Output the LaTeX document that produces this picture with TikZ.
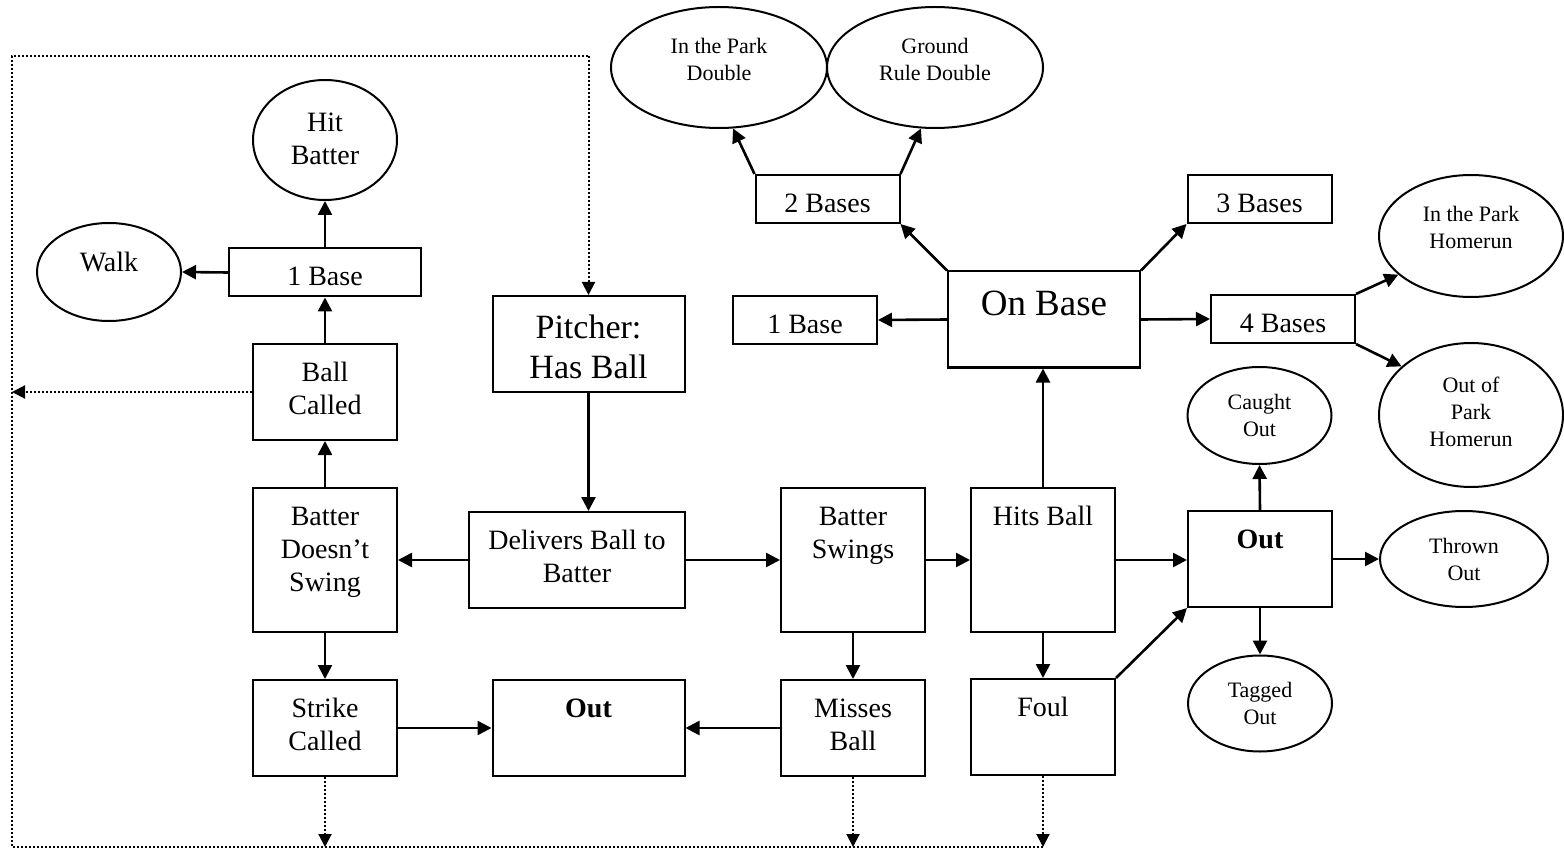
\documentclass[tikz,border=0pt]{standalone}
\usepackage{fontspec}
\setmainfont{Liberation Serif}
\usetikzlibrary{arrows.meta,shapes.geometric}
\newcommand\szA{\fontsize{14}{16.6}\selectfont}
\newcommand\szP{\fontsize{17}{20}\selectfont}
\newcommand\szO{\fontsize{18.5}{22}\selectfont}
\newcommand\szS{\fontsize{11}{13.5}\selectfont}
\newcommand\bt[4]{\parbox[c][#2][t]{#1}{\centering\vspace*{#3}\strut #4\par}}
\begin{document}
\begin{tikzpicture}[x=0.5pt,y=-0.5pt,
  bx/.style={draw, line width=1pt, inner sep=0pt, rectangle, font=\szA},
  el/.style={draw, ellipse, line width=1pt, inner sep=0pt},
  lblA/.style={font=\szA, align=center, inner sep=0pt},
  lblS/.style={font=\szS, align=center, inner sep=0pt},
  arr/.style={line width=1.3pt, -{Triangle[length=7pt,width=7pt]}},
  dar/.style={line width=1pt, dash pattern=on 1pt off 1pt, -{Triangle[length=6.5pt,width=6.5pt]}},
  dln/.style={line width=1pt, dash pattern=on 1pt off 1pt}]
\useasboundingbox (0,0) rectangle (1564,850);

% boxes
\node[bx] (bds)    at (325,560)   {\bt{72pt}{72pt}{6.9pt}{Batter\\Doesn’t\\Swing}};
\node[bx] (ballc)  at (325,392)   {\bt{72pt}{48pt}{6.9pt}{Ball\\Called}};
\node[bx] (strike) at (325,728)   {\bt{72pt}{48pt}{6.9pt}{Strike\\Called}};
\node[bx] (baseL)  at (325,272.5) {\bt{96pt}{24pt}{6.9pt}{1 Base}};
\node[bx,font=\szP] (pitch) at (588.5,344) {\bt{96pt}{48pt}{7pt}{Pitcher:\\Has Ball}};
\node[bx] (deliv)  at (577,560)   {\bt{108pt}{48pt}{6.9pt}{Delivers Ball to\\Batter}};
\node[bx] (outM)   at (588.5,728) {\bt{96pt}{48pt}{6.9pt}{\textbf{Out}}};
\node[bx] (swing)  at (853,560)   {\bt{72pt}{72pt}{6.9pt}{Batter\\Swings}};
\node[bx] (miss)   at (853,728)   {\bt{72pt}{48pt}{6.9pt}{Misses\\Ball}};
\node[bx] (hits)   at (1043,560)  {\bt{72pt}{72pt}{6.9pt}{Hits Ball}};
\node[bx] (foul)   at (1043,727)  {\bt{72pt}{48pt}{6.9pt}{Foul}};
\node[bx] (outR)   at (1260,559)  {\bt{72pt}{48pt}{6.9pt}{\textbf{Out}}};
\node[bx,font=\szO] (onbase) at (1044,319.5) {\bt{96pt}{48pt}{6.6pt}{On Base}};
\node[bx] (baseR)  at (805,320)   {\bt{72pt}{24pt}{6.9pt}{1 Base}};
\node[bx] (base2)  at (827.5,199) {\bt{72pt}{24pt}{6.9pt}{2 Bases}};
\node[bx] (base3)  at (1259.5,199){\bt{72pt}{24pt}{6.9pt}{3 Bases}};
\node[bx] (base4)  at (1283,319)  {\bt{72pt}{24pt}{6.9pt}{4 Bases}};

% ellipses
\node[el, minimum width=72pt, minimum height=60pt]   (hitb)   at (325,140)    {};
\node[el, minimum width=72pt, minimum height=49pt]   (walk)   at (109,272)    {};
\node[el, minimum width=108pt, minimum height=60.5pt](ipd)    at (719,67.5)   {};
\node[el, minimum width=108pt, minimum height=60.5pt](grd)    at (935,67.5)   {};
\node[el, minimum width=92pt, minimum height=61pt]   (iph)    at (1471,236)   {};
\node[el, minimum width=92pt, minimum height=72pt]   (oph)    at (1471,415)   {};
\node[el, minimum width=72pt, minimum height=48.5pt] (caught) at (1259.5,415.5){};
\node[el, minimum width=84pt, minimum height=48pt]   (thrown) at (1464,559)   {};
\node[el, minimum width=72pt, minimum height=48pt]   (tagged) at (1260,703.5) {};

\node[lblA] (hitb-t)   at ([yshift=0.5pt]hitb.center) {Hit\\Batter};
\node[lblA] (walk-t)   at ([yshift=5pt]walk.center) {Walk};
\node[lblS] (ipd-t)    at ([yshift=4pt]ipd.center) {In the Park\\Double};
\node[lblS] (grd-t)    at ([yshift=4pt]grd.center) {Ground\\Rule Double};
\node[lblS] (iph-t)    at ([yshift=4.5pt]iph.center) {In the Park\\Homerun};
\node[lblS] (oph-t)    at ([yshift=1.5pt]oph.center) {Out of\\Park\\Homerun};
\node[lblS] (caught-t) at (caught.center) {Caught\\Out};
\node[lblS] (thrown-t) at (thrown.center) {Thrown\\Out};
\node[lblS] (tagged-t) at (tagged.center) {Tagged\\Out};

% solid arrows
\draw[arr] (pitch.south) -- (pitch.south |- deliv.north);
\draw[arr] (deliv.west) -- (bds.east);
\draw[arr] (deliv.east) -- (swing.west);
\draw[arr] (swing.east) -- (hits.west);
\draw[arr] (hits.east) -- (hits.east -| outR.west);
\draw[arr] (outR.east) -- (thrown.west);
\draw[arr] (outR.north) -- (caught.south);
\draw[arr] (outR.south) -- (tagged.north);
\draw[arr] (foul.north east) -- (outR.south west);
\draw[arr] (hits.south) -- (foul.north);
\draw[arr] (hits.north) -- (hits.north |- onbase.south);
\draw[arr] (swing.south) -- (miss.north);
\draw[arr] (miss.west) -- (outM.east);
\draw[arr] (strike.east) -- (outM.west);
\draw[arr] (bds.south) -- (strike.north);
\draw[arr] (bds.north) -- (ballc.south);
\draw[arr] (ballc.north) -- (baseL.south);
\draw[arr] (baseL.north) -- (hitb.south);
\draw[arr] (baseL.west) -- (walk.east);
\draw[arr] (onbase.west) -- (baseR.east);
\draw[arr] (onbase.east) -- (base4.west);
\draw[arr] (onbase.north west) -- (base2.south east);
\draw[arr] (onbase.north east) -- (base3.south west);
\draw[arr] (base2.north west) -- (ipd.-77);
\draw[arr] (base2.north east) -- (grd.-103);
\draw[arr] (base4.north east) -- (iph.-152);
\draw[arr] (base4.south east) -- (oph.145);

% dotted loop
\coordinate (tl) at (12,56);
\coordinate (bl) at (12,847);
\draw[dar] (foul.south) -- (foul.south |- bl);
\draw[dar] (miss.south) -- (miss.south |- bl);
\draw[dar] (strike.south) -- (strike.south |- bl);
\draw[dar] (ballc.west) -- (ballc.west -| tl);
\draw[dln] (foul.south |- bl) -- (bl) -- (tl) -- (tl -| pitch.north);
\draw[dar] (tl -| pitch.north) -- (pitch.north);
\end{tikzpicture}
\end{document}
